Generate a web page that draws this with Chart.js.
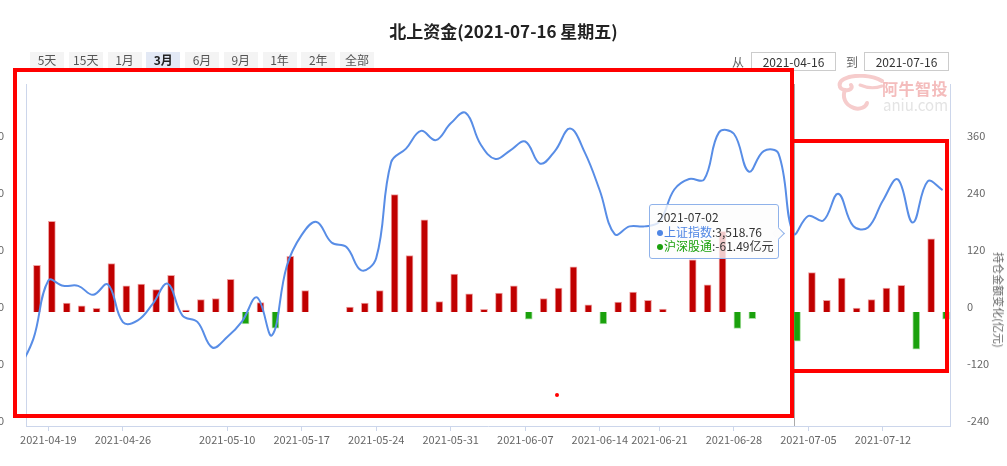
<!DOCTYPE html>
<html>
<head>
<meta charset="utf-8">
<script src="https://cdn.jsdelivr.net/npm/chart.js@4.4.1/dist/chart.umd.min.js"></script>
<style>
  body { margin: 0; background: #fff; font-family: "Noto Sans CJK SC", "Noto Sans", sans-serif; }
  #wrap { position: relative; width: 1007px; height: 466px; overflow: hidden; }
  #c { position: absolute; left: -15px; top: 0; }
  .title { position: absolute; left: 0; width: 1007px; top: 20px; text-align: center; font-size: 17px; font-weight: bold; color: #222; line-height: 22px; }
  .range { position: absolute; left: 30px; top: 52px; display: flex; gap: 4.75px; }
  .range span { width: 34px; height: 16px; line-height: 16px; text-align: center; font-size: 12px; color: #555; background: #f4f4f4; }
  .range span.on { background: #e3e9f5; color: #222; font-weight: bold; }
  .lbl { position: absolute; top: 52px; font-size: 12px; color: #666; line-height: 19px; }
  .date { position: absolute; top: 52px; width: 85px; height: 19px; box-sizing: border-box; border: 1px solid #ccc; font-size: 12px; color: #333; text-align: center; line-height: 17px; }
  .wm1 { position: absolute; left: 882px; top: 76px; font-size: 16px; font-weight: bold; color: #f4bcbc; letter-spacing: 0.5px; }
  .wm2 { position: absolute; left: 883px; top: 94px; font-size: 15px; color: #e4e4e4; }
  .ytitle { position: absolute; left: 999px; top: 300px; font-size: 11px; color: #666; white-space: nowrap; transform: translate(-50%, -50%) rotate(90deg); }
  .tip { position: absolute; left: 649px; top: 204px; width: 130px; height: 55px; box-sizing: border-box; border: 1px solid #8fb2ea; border-radius: 3px; background: rgba(252,252,252,0.8); font-size: 12px; color: #333; padding: 5px 0 0 7px; line-height: 14.5px; }
  .tip:after { content: ""; position: absolute; right: -5px; top: 24px; width: 8px; height: 8px; background: #fcfcfc; border-top: 1px solid #8fb2ea; border-right: 1px solid #8fb2ea; transform: rotate(45deg); }
  .dot { display: inline-block; width: 6px; height: 6px; border-radius: 3px; margin-right: 1px; vertical-align: 1px; }
  .box { position: absolute; border: 4.5px solid #ff0000; box-sizing: border-box; }
  .reddot { position: absolute; left: 555px; top: 393px; width: 4px; height: 4px; border-radius: 2px; background: #f00; }
</style>
</head>
<body>
<div id="wrap">
  <canvas id="c" width="1022" height="466"></canvas>

  <div class="title">北上资金(2021-07-16 星期五)</div>
  <div class="range">
    <span>5天</span><span>15天</span><span>1月</span><span class="on">3月</span><span>6月</span><span>9月</span><span>1年</span><span>2年</span><span>全部</span>
  </div>
  <div class="lbl" style="left:732px">从</div>
  <div class="date" style="left:751px">2021-04-16</div>
  <div class="lbl" style="left:846px">到</div>
  <div class="date" style="left:864px">2021-07-16</div>

  <svg style="position:absolute;left:836px;top:74px" width="48" height="40">
    <path d="M46 7 C36 1 18 0 8 5 C2 8 2 15 9 16 C14 17 17 14 15 11" fill="none" stroke="#f6cccc" stroke-width="4" stroke-linecap="round"/>
    <path d="M9 16 C6 23 9 31 18 34 C24 36 30 33 31 29" fill="none" stroke="#f6cccc" stroke-width="4" stroke-linecap="round"/>
    <path d="M24 11 C31 14 38 15 46 12" fill="none" stroke="#f6cccc" stroke-width="3" stroke-linecap="round"/>
  </svg>
  <div class="wm1">阿牛智投</div>
  <div class="wm2">aniu.com</div>

  <div class="ytitle">持仓金额变化(亿元)</div>

  <div class="tip">
    <div>2021-07-02</div>
    <div><span class="dot" style="background:#4f86e4"></span><span style="color:#4f86e4">上证指数</span>:3,518.76</div>
    <div><span class="dot" style="background:#1aa10c"></span><span style="color:#1aa10c">沪深股通</span>:-61.49亿元</div>
  </div>

  <div class="box" style="left:13px;top:68px;width:781px;height:350px"></div>
  <div class="box" style="left:790px;top:139px;width:159px;height:234px"></div>
  <div class="reddot"></div>
</div>

<script>
// trading days shown on the category axis
const dates = [
  '2021-04-16', '2021-04-19', '2021-04-20', '2021-04-21', '2021-04-22', '2021-04-23',
  '2021-04-26', '2021-04-27', '2021-04-28', '2021-04-29', '2021-04-30',
  '2021-05-06', '2021-05-07', '2021-05-10', '2021-05-11', '2021-05-12', '2021-05-13', '2021-05-14',
  '2021-05-17', '2021-05-18', '2021-05-19', '2021-05-20', '2021-05-21',
  '2021-05-24', '2021-05-25', '2021-05-26', '2021-05-27', '2021-05-28',
  '2021-05-31', '2021-06-01', '2021-06-02', '2021-06-03', '2021-06-04',
  '2021-06-07', '2021-06-08', '2021-06-09', '2021-06-10', '2021-06-11',
  '2021-06-15', '2021-06-16', '2021-06-17', '2021-06-18',
  '2021-06-21', '2021-06-22', '2021-06-23', '2021-06-24', '2021-06-25',
  '2021-06-28', '2021-06-29', '2021-06-30', '2021-07-01', '2021-07-02',
  '2021-07-05', '2021-07-06', '2021-07-07', '2021-07-08', '2021-07-09',
  '2021-07-12', '2021-07-13', '2021-07-14', '2021-07-15', '2021-07-16',
]

// 沪深股通, 亿元 (null = no bar)
const flowValues = [
  98, 191, 19, 13, 7.6, 102,
  55, 59, 47, 77, 4,
  26, 28, 69, -25, 20, -34, 117,
  45, null, null, 10.5, 19,
  45, 247, 119, 194, 22,
  80, 38, 5.5, 40, 55,
  -15, 28, 50.5, 95, 15,
  -25, 21, 42, 24.5,
  6.3, null, 110, 57, 170,
  -34.5, -14, null, null, -61.49,
  83, 24.5, 71.6, 8.4, 26,
  50.5, 56, -78, 154, -15,
]

// 上证指数 close; the first value is 2021-04-15, one day before the window
const indexValues = [
  3398.99,
  3426.62, 3477.55, 3472.94, 3472.93, 3465.11, 3474.17,
  3441.17, 3442.61, 3457.07, 3474.90, 3446.86,
  3441.28, 3418.87, 3427.99, 3441.85, 3462.75, 3429.54, 3490.38,
  3517.62, 3529.01, 3510.96, 3506.94, 3486.56,
  3497.28, 3581.34, 3593.36, 3608.85, 3600.78,
  3615.48, 3624.71, 3597.14, 3584.22, 3591.84,
  3599.54, 3580.11, 3591.40, 3610.86, 3589.75,
  3556.56, 3518.33, 3525.10, 3525.10,
  3529.18, 3557.41, 3566.65, 3566.22, 3607.56,
  3606.37, 3573.18, 3591.20, 3588.78, 3518.76,
  3534.32, 3530.26, 3553.72, 3525.50, 3524.09,
  3547.84, 3566.31, 3528.50, 3564.59, 3557.00,
]

const tickIndex = [1, 6, 13, 18, 23, 28, 33, 38, 42, 47, 52, 57]
const tickText = [
  '2021-04-19', '2021-04-26', '2021-05-10', '2021-05-17', '2021-05-24', '2021-05-31',
  '2021-06-07', '2021-06-14', '2021-06-21', '2021-06-28', '2021-07-05', '2021-07-12',
]
const indexTicks = [3350, 3400, 3450, 3500, 3550, 3600]
const flowTicks = [-240, -120, 0, 120, 240, 360]
const pointerDate = '2021-07-02'

const axisColor = '#ccd6eb'
const labelColor = '#666'
const font = { family: '"Noto Sans CJK SC", "Noto Sans", sans-serif', size: 11 }

const pointerLine = {
  id: 'pointerLine',
  beforeDatasetsDraw(chart) {
    const { ctx, chartArea, scales } = chart
    const x = Math.round(scales.x.getPixelForValue(dates.indexOf(pointerDate))) + 0.5
    ctx.save()
    ctx.strokeStyle = '#aaa'
    ctx.lineWidth = 1
    ctx.beginPath()
    ctx.moveTo(x, chartArea.top)
    ctx.lineTo(x, chartArea.bottom)
    ctx.stroke()
    ctx.restore()
  },
}

new Chart(document.getElementById('c'), {
  type: 'bar',
  data: {
    labels: dates,
    datasets: [
      {
        type: 'line',
        label: '上证指数',
        data: indexValues.map((v, k) => ({ x: k - 1, y: v })),
        xAxisID: 'xl',
        yAxisID: 'y',
        borderColor: '#588de6',
        borderWidth: 2,
        pointRadius: 0,
        tension: 0.4,
        clip: 0,
        order: 0,
      },
      {
        type: 'bar',
        label: '沪深股通',
        data: flowValues,
        xAxisID: 'x',
        yAxisID: 'y1',
        backgroundColor: (c) => (c.raw < 0 ? '#1aa10c' : '#c00000'),
        borderColor: (c) => (c.raw < 0 ? '#a9dfa3' : '#eea2a2'),
        borderWidth: 1,
        barThickness: 7,
        order: 1,
      },
    ],
  },
  options: {
    responsive: false,
    animation: false,
    events: [],
    layout: { padding: { top: 84, left: 0, right: 0, bottom: 0 } },
    plugins: { legend: { display: false }, tooltip: { enabled: false } },
    scales: {
      x: {
        type: 'category',
        position: 'bottom',
        offset: true,
        grid: {
          offset: false,
          drawOnChartArea: false,
          drawTicks: true,
          tickLength: 5,
          color: (c) => (tickIndex.includes(c.index) ? axisColor : 'rgba(0,0,0,0)'),
        },
        border: { color: axisColor },
        ticks: {
          autoSkip: false,
          maxRotation: 0,
          padding: 2,
          color: labelColor,
          font,
          callback: (v, i) => {
            const k = tickIndex.indexOf(i)
            return k < 0 ? '' : tickText[k]
          },
        },
        afterFit: (s) => { s.height = 40 },
      },
      xl: {
        type: 'linear',
        axis: 'x',
        position: 'bottom',
        display: false,
        offset: false,
        grid: { offset: false },
        bounds: 'data',
        min: -0.5,
        max: dates.length - 0.5,
      },
      y: {
        type: 'linear',
        position: 'left',
        min: 3350,
        max: 3650,
        afterBuildTicks: (s) => { s.ticks = indexTicks.map((v) => ({ value: v })) },
        grid: { display: false },
        border: { color: axisColor },
        ticks: { padding: 14, labelOffset: -5, color: labelColor, font, callback: (v) => String(v) },
        afterFit: (s) => { s.width = 41 },
      },
      y1: {
        type: 'linear',
        position: 'right',
        min: -240,
        max: 480,
        afterBuildTicks: (s) => { s.ticks = flowTicks.map((v) => ({ value: v })) },
        grid: { display: false },
        border: { color: axisColor },
        ticks: { padding: 9, labelOffset: -5, color: labelColor, font, callback: (v) => String(v) },
        afterFit: (s) => { s.width = 57 },
      },
    },
  },
  plugins: [pointerLine],
})
</script>
</body>
</html>
